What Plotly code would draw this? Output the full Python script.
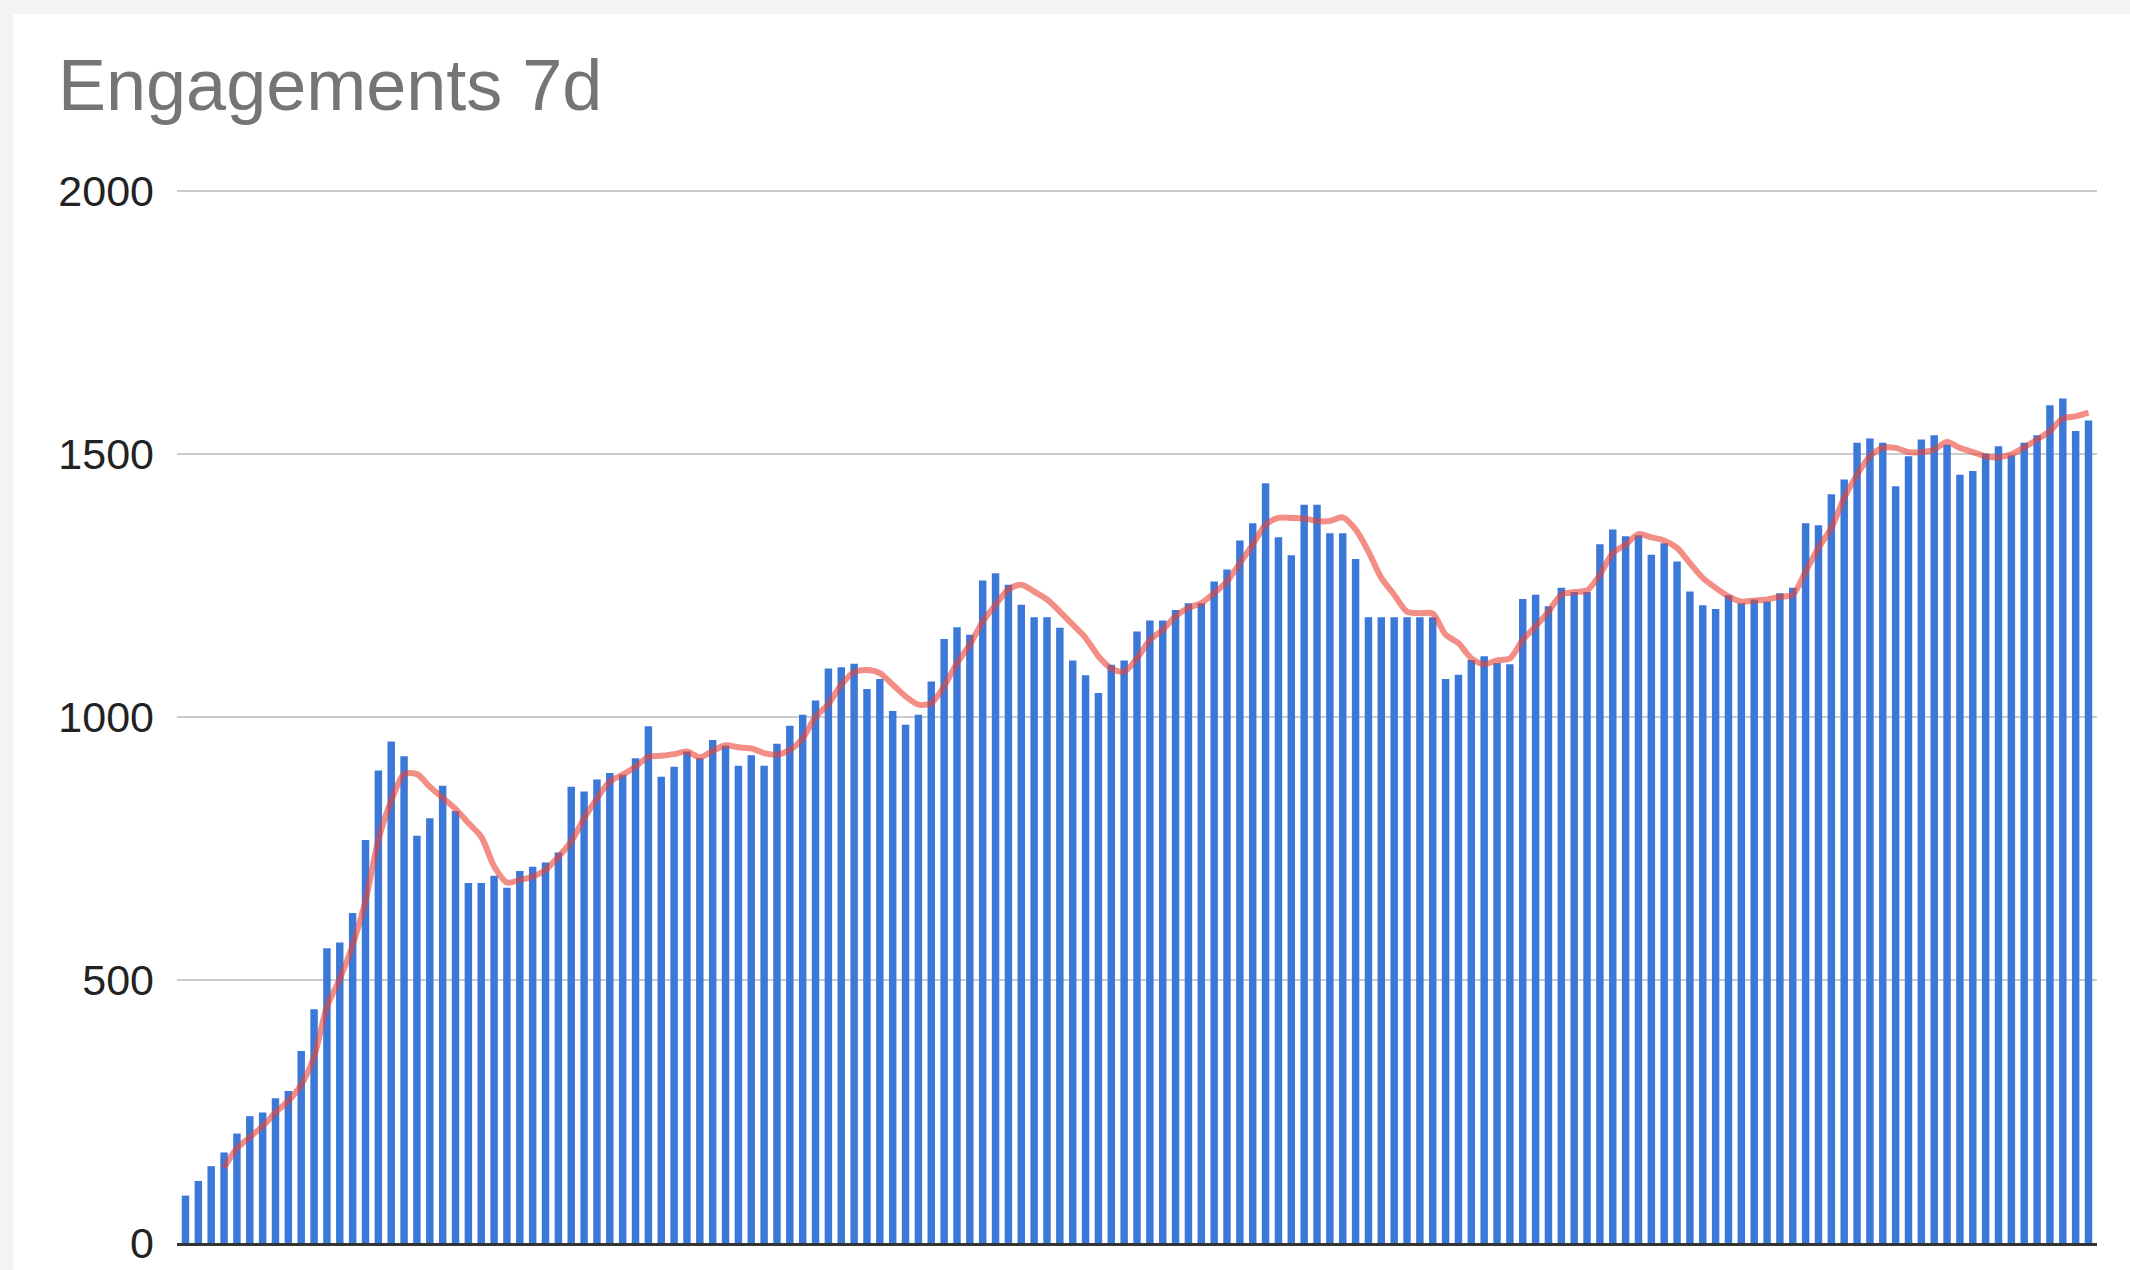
import plotly.graph_objects as go

# ---- data ----
days = list(range(1, 150))

engagements = [
    90, 118, 146, 172, 208, 241, 248, 275, 289, 365,
    444, 560, 571, 627, 766, 898, 953, 925, 774, 807,
    869, 821, 684, 684, 698, 675, 707, 715, 723, 742,
    867, 858, 881, 893, 890, 921, 982, 886, 905, 934,
    921, 956, 945, 907, 927, 907, 949, 983, 1004, 1031,
    1092, 1094, 1101, 1053, 1072, 1011, 985, 1004, 1067, 1148,
    1170, 1156, 1259, 1273, 1251, 1213, 1189, 1189, 1169, 1107,
    1079, 1045, 1099, 1107, 1162, 1183, 1183, 1203, 1216, 1216,
    1257, 1280, 1335, 1368, 1444, 1341, 1307, 1403, 1403, 1349,
    1349, 1300, 1189, 1189, 1189, 1189, 1189, 1189, 1072, 1080,
    1108, 1115, 1102, 1100, 1224, 1232, 1210, 1245, 1237, 1237,
    1328, 1356, 1343, 1345, 1308, 1330, 1295, 1238, 1212, 1205,
    1231, 1216, 1223, 1219, 1235, 1245, 1368, 1364, 1423, 1451,
    1521, 1529, 1521, 1438, 1495, 1527, 1535, 1517, 1460, 1467,
    1500, 1514, 1497, 1521, 1535, 1592, 1605, 1543, 1563,
]

trend = [
    None, None, None, 143, 180, 201, 222, 248, 270, 301,
    354, 449, 502, 566, 650, 766, 840, 891, 891, 867,
    846, 825, 798, 772, 716, 685, 690, 696, 709, 734,
    763, 807, 845, 877, 890, 905, 924, 926, 929, 934,
    923, 935, 946, 942, 940, 931, 928, 937, 959, 1000,
    1024, 1061, 1085, 1089, 1083, 1061, 1039, 1023, 1026, 1058,
    1102, 1137, 1181, 1213, 1242, 1251, 1238, 1223, 1200, 1175,
    1150, 1115, 1092, 1086, 1111, 1146, 1165, 1191, 1207, 1216,
    1235, 1257, 1292, 1327, 1365, 1378, 1378, 1377, 1372, 1372,
    1379, 1356, 1314, 1264, 1232, 1200, 1197, 1196, 1156, 1140,
    1111, 1100, 1107, 1111, 1146, 1172, 1200, 1232, 1237, 1240,
    1270, 1311, 1327, 1347, 1341, 1335, 1321, 1292, 1264, 1245,
    1229, 1219, 1221, 1223, 1228, 1232, 1276, 1321, 1359, 1416,
    1460, 1495, 1511, 1511, 1503, 1503, 1508, 1522, 1511, 1503,
    1495, 1493, 1499, 1512, 1527, 1543, 1567, 1571, 1578,
]

y_ticks = [0, 500, 1000, 1500, 2000]
y_tick_labels = ["0", "500", "1000", "1500", "2000"]
title_text = "Engagements 7d"

# ---- figure ----
W, H = 2130, 1270
L, R, T, B = 177, 33, 189, 27
pw, ph = W - L - R, H - T - B

fig = go.Figure()
fig.add_trace(go.Bar(x=days, y=engagements, marker_color="#3c78d8",
                     marker_line_width=0, name="Engagements"))
fig.add_trace(go.Scatter(x=days, y=trend, mode="lines",
                         line=dict(color="rgba(234,67,53,0.6)", width=6,
                                   shape="spline", smoothing=0.8),
                         name="Trend"))

# white card over light-grey page
fig.add_shape(type="rect", xref="paper", yref="paper", layer="below",
              x0=(13 - L) / pw, x1=(W + 10 - L) / pw,
              y0=(H - B - (H + 10)) / ph, y1=(H - B - 14) / ph,
              fillcolor="white", line_width=0)

fig.update_layout(
    width=W, height=H,
    margin=dict(l=L, r=R, t=T, b=B, pad=0, autoexpand=False),
    paper_bgcolor="#f3f3f3",
    plot_bgcolor="white",
    showlegend=False,
    bargap=0.42,
    title=dict(text=title_text, x=58 / W, xanchor="left", xref="container",
               y=1 - 85 / H, yanchor="middle", yref="container",
               font=dict(family="Liberation Sans, Arial, sans-serif",
                         size=72, color="#757575")),
    xaxis=dict(range=[0.34, len(days) + 0.66], showgrid=False,
               showticklabels=False, zeroline=False, showline=True,
               linecolor="#333333", linewidth=3, ticks="", automargin=False),
    yaxis=dict(range=[0, 2003], tickvals=y_ticks, ticktext=y_tick_labels,
               showgrid=True, gridcolor="#cccccc", gridwidth=2,
               zeroline=False, showline=False, ticks="", automargin=False,
               ticklabelstandoff=22,
               tickfont=dict(family="Liberation Sans, Arial, sans-serif",
                             size=43, color="#222222")),
)

fig.write_html("out.html", config={"displayModeBar": False},
               post_script="document.body.style.margin='0';")
